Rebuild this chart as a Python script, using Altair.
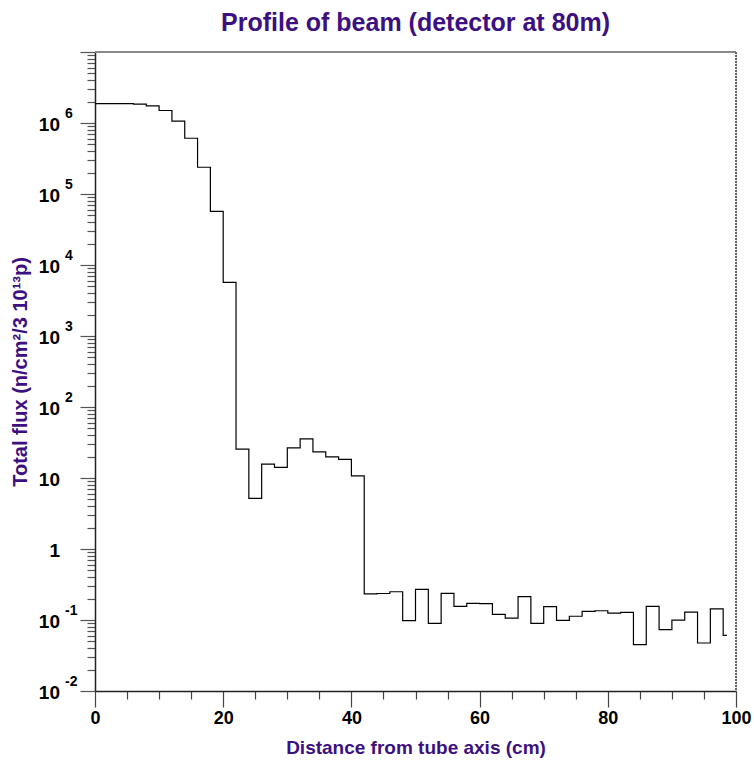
import altair as alt
import pandas as pd

# Bin lower edges (cm) and total flux per 2 cm bin
bin_lo = [0, 2, 4, 6, 8, 10, 12, 14, 16, 18,
          20, 22, 24, 26, 28, 30, 32, 34, 36, 38,
          40, 42, 44, 46, 48, 50, 52, 54, 56, 58,
          60, 62, 64, 66, 68, 70, 72, 74, 76, 78,
          80, 82, 84, 86, 88, 90, 92, 94, 96, 98]
flux = [1.88e6, 1.88e6, 1.88e6, 1.85e6, 1.74e6, 1.50e6, 1.06e6, 6.1e5, 2.38e5, 5.7e4,
        5.7e3, 25.5, 5.16, 15.7, 14.1, 26.6, 35.6, 23.4, 19.9, 18.3,
        10.7, 0.234, 0.236, 0.25, 0.0977, 0.270, 0.0897, 0.237, 0.156, 0.172,
        0.170, 0.120, 0.1066, 0.213, 0.0897, 0.154, 0.099, 0.113, 0.132, 0.135,
        0.125, 0.128, 0.0449, 0.156, 0.0730, 0.0999, 0.129, 0.0474, 0.143, 0.0608]
last_edge = 98.6

# Y-axis decade labels: base and exponent
dec_vals = [1e6, 1e5, 1e4, 1e3, 1e2, 10, 1, 0.1, 0.01]
dec_base = ["10", "10", "10", "10", "10", "10", "1", "10", "10"]
dec_exp = ["6", "5", "4", "3", "2", "", "", "-1", "-2"]

# Log tick positions: 1..9 within each decade
y_ticks = [m * 10.0 ** e for e in range(-2, 7) for m in range(1, 10)] + [1e7]
x_ticks = [0, 5, 10, 15, 20, 25, 30, 35, 40, 45, 50, 55, 60, 65, 70, 75, 80, 85, 90, 95, 100]

PURPLE = "#3c1080"
FONT = "Liberation Sans"
W, H = 641, 639

step_df = pd.DataFrame({"x": bin_lo + [last_edge], "y": flux + [flux[-1]]})
lab_df = pd.DataFrame({"y": dec_vals, "base": dec_base, "exp": dec_exp})

xscale = alt.Scale(domain=[0, 100], nice=False, zero=False)
yscale = alt.Scale(type="log", domain=[0.01, 1e7], nice=False)

major_y = "abs(log(datum.value)/LN10 - round(log(datum.value)/LN10)) < 1e-6"

x_axis = alt.Axis(values=x_ticks,
                  title="Distance from tube axis (cm)",
                  labelExpr="datum.value % 20 === 0 ? datum.label : ''",
                  tickSize={"condition": {"test": "datum.value % 20 === 0", "value": 16}, "value": 8},
                  labelFont=FONT, labelFontSize=18, labelFontWeight="bold",
                  labelColor="black", labelPadding=2, labelFlush=False,
                  titleFont=FONT, titleFontSize=19, titleFontWeight="bold",
                  titleColor=PURPLE, titleY=56, titleBaseline="middle",
                  domainColor="#222", domainWidth=1.5,
                  tickColor="#444", tickWidth=1.2, grid=False)

y_axis = alt.Axis(values=y_ticks, labels=False,
                  title="Total flux (n/cm²/3 10¹³p)",
                  tickSize={"condition": {"test": major_y, "value": 15}, "value": 8},
                  titleFont=FONT, titleFontSize=20, titleFontWeight="bold",
                  titleColor=PURPLE, titleX=-75, titleY=H / 2,
                  titleAngle=-90, titleBaseline="middle", titleAlign="center",
                  domainColor="#222", domainWidth=1.5,
                  tickColor="#555", tickWidth=1.2, grid=False)

step = alt.Chart(step_df).mark_line(
    interpolate="step-after", color="black", strokeWidth=1.2
).encode(
    x=alt.X("x:Q", scale=xscale, axis=x_axis),
    y=alt.Y("y:Q", scale=yscale, axis=y_axis),
)

base_txt = alt.Chart(lab_df).mark_text(
    align="right", baseline="middle", font=FONT,
    fontSize=19, fontWeight="bold", color="black", dy=2
).encode(x=alt.value(-35), y=alt.Y("y:Q", scale=yscale, axis=y_axis), text="base:N")

exp_txt = alt.Chart(lab_df).mark_text(
    align="left", baseline="middle", font=FONT,
    fontSize=14, fontWeight="bold", color="black", dy=-9
).encode(x=alt.value(-30), y=alt.Y("y:Q", scale=yscale, axis=y_axis), text="exp:N")

top_rule = alt.Chart(step_df).mark_rule(color="#888", strokeWidth=2).encode(
    x=alt.value(0), x2=alt.value(W), y=alt.value(0))
right_rule = alt.Chart(step_df).mark_rule(color="#666", strokeWidth=2, strokeDash=[2, 1]).encode(
    x=alt.value(W), y=alt.value(0), y2=alt.value(H))

chart = alt.layer(top_rule, right_rule, step, base_txt, exp_txt).properties(
    width=W, height=H,
    title=alt.Title("Profile of beam (detector at 80m)", font=FONT,
                    fontSize=25, fontWeight="bold", color=PURPLE, anchor="middle",
                    offset=15),
    autosize=alt.AutoSizeParams(type="none"),
    padding={"left": 95, "top": 52, "right": 18, "bottom": 69},
).configure_view(stroke=None).configure(background="white")

chart.save("out.html", embed_options={"renderer": "svg", "actions": False})
